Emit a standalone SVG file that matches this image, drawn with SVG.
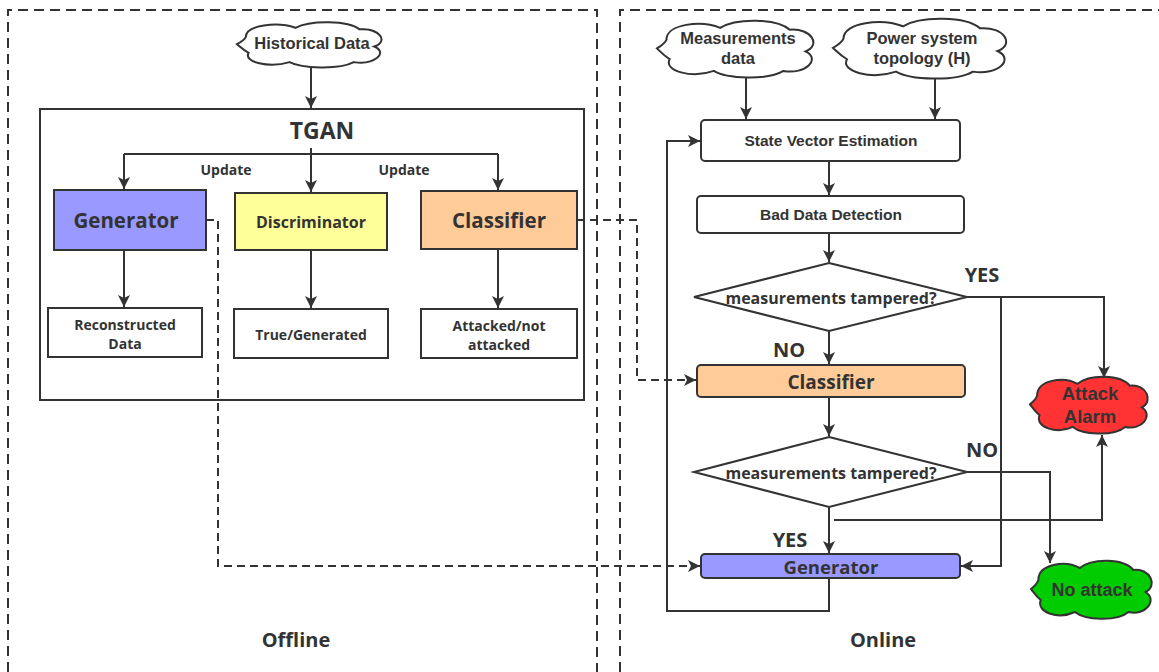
<svg xmlns="http://www.w3.org/2000/svg" width="1159" height="672" viewBox="0 0 1159 672">
  <style>
    .frame { fill: none; stroke: #333; stroke-width: 2; stroke-dasharray: 10 6; }
    .box { stroke: #333; stroke-width: 2; }
    .edge { fill: none; stroke: #333; stroke-width: 2; }
    .dash { fill: none; stroke: #333; stroke-width: 2; stroke-dasharray: 8 5; }
    .cloud { stroke: #333; stroke-width: 2; }
    .ya { font-family: "Open Sans", "Noto Sans", sans-serif; font-weight: bold; fill: #333; text-anchor: middle; }
    .ar { font-family: "Liberation Sans", Arial, sans-serif; font-weight: bold; fill: #333; text-anchor: middle; }
  </style>
  <defs>
    <marker id="arrow" markerUnits="userSpaceOnUse" markerWidth="14" markerHeight="12" refX="12" refY="6" orient="auto">
      <path d="M0,0 L12,6 L0,12 L3,6 Z" fill="#333"/>
    </marker>
  </defs>

  <!-- section frames -->
  <path class="frame" d="M8,672 L8,10 L597,10 L597,672"/>
  <path class="frame" d="M620,672 L620,10 L1159,10"/>

  <!-- offline: source cloud and TGAN blocks -->
  <g id="historical-data">
    <path class="cloud" d="M6,22 C6,6 28,2 40,10 C50,0 76,0 84,12 C98,10 104,28 94,34 C104,42 94,58 80,54 C70,64 44,62 36,54 C22,62 4,54 8,42 C4,38 2,34 0,31 C3,28 5,26 6,22 Z" fill="#fff" vector-effect="non-scaling-stroke" transform="translate(237,20) scale(1.46,0.78)"/>
    <text class="ar" x="312" y="49" font-size="16.5">Historical Data</text>
  </g>

  <g id="tgan">
    <rect class="box" x="40" y="109" width="544" height="291" fill="#fff"/>
    <text class="ya" x="322" y="139" font-size="23">TGAN</text>
  </g>

  <g id="generator">
    <rect class="box" x="54" y="190" width="152" height="60" fill="#9999FF"/>
    <text class="ya" x="126" y="228" font-size="20.5">Generator</text>
  </g>
  <g id="discriminator">
    <rect class="box" x="235" y="193" width="152" height="57" fill="#FFFF99"/>
    <text class="ya" x="311" y="228" font-size="16">Discriminator</text>
  </g>
  <g id="classifier">
    <rect class="box" x="421" y="191" width="156" height="58" fill="#FFCC99"/>
    <text class="ya" x="499" y="228" font-size="20.5">Classifier</text>
  </g>
  <g id="reconstructed-data">
    <rect class="box" x="48" y="308" width="154" height="49" fill="#fff"/>
    <text class="ya" x="125" y="330" font-size="14">Reconstructed</text>
    <text class="ya" x="125" y="349" font-size="14">Data</text>
  </g>
  <g id="true-generated">
    <rect class="box" x="234" y="309" width="154" height="49" fill="#fff"/>
    <text class="ya" x="311" y="340" font-size="14">True/Generated</text>
  </g>
  <g id="attacked-not-attacked">
    <rect class="box" x="421" y="309" width="156" height="49" fill="#fff"/>
    <text class="ya" x="499" y="331" font-size="14">Attacked/not</text>
    <text class="ya" x="499" y="350" font-size="14">attacked</text>
  </g>

  <!-- online: input clouds -->
  <g id="measurements-data">
    <path class="cloud" d="M6,22 C6,6 28,2 40,10 C50,0 76,0 84,12 C98,10 104,28 94,34 C104,42 94,58 80,54 C70,64 44,62 36,54 C22,62 4,54 8,42 C4,38 2,34 0,31 C3,28 5,26 6,22 Z" fill="#fff" vector-effect="non-scaling-stroke" transform="translate(657,18) scale(1.58,0.98)"/>
    <text class="ar" x="738" y="44" font-size="16.5">Measurements</text>
    <text class="ar" x="738" y="64" font-size="16.5">data</text>
  </g>
  <g id="power-system-topology">
    <path class="cloud" d="M6,22 C6,6 28,2 40,10 C50,0 76,0 84,12 C98,10 104,28 94,34 C104,42 94,58 80,54 C70,64 44,62 36,54 C22,62 4,54 8,42 C4,38 2,34 0,31 C3,28 5,26 6,22 Z" fill="#fff" vector-effect="non-scaling-stroke" transform="translate(833,16) scale(1.75,1.03)"/>
    <text class="ar" x="922" y="44" font-size="16.5">Power system</text>
    <text class="ar" x="922" y="64" font-size="16.5">topology (H)</text>
  </g>

  <!-- online: detection pipeline -->
  <g id="state-vector-estimation">
    <rect class="box" x="701" y="120" width="259" height="41" rx="4" fill="#fff"/>
    <text class="ar" x="831" y="146" font-size="15.5">State Vector Estimation</text>
  </g>
  <g id="bad-data-detection">
    <rect class="box" x="697" y="196" width="267" height="37" rx="4" fill="#fff"/>
    <text class="ar" x="831" y="220" font-size="15.5">Bad Data Detection</text>
  </g>
  <g id="decision-1">
    <polygon class="box" points="829,263 967,297 829,331 694,297" fill="#fff"/>
    <text class="ya" x="831" y="304" font-size="16">measurements tampered?</text>
  </g>
  <g id="online-classifier">
    <rect class="box" x="697" y="365" width="268" height="32" rx="4" fill="#FFCC99"/>
    <text class="ya" x="831" y="389" font-size="19">Classifier</text>
  </g>
  <g id="decision-2">
    <polygon class="box" points="829,437 967,472 829,507 694,472" fill="#fff"/>
    <text class="ya" x="831" y="479" font-size="16">measurements tampered?</text>
  </g>
  <g id="online-generator">
    <rect class="box" x="701" y="554" width="259" height="24" rx="4" fill="#9999FF"/>
    <text class="ya" x="831" y="574" font-size="18.5">Generator</text>
  </g>

  <!-- outcomes -->
  <g id="attack-alarm">
    <path class="cloud" d="M6,22 C6,6 28,2 40,10 C50,0 76,0 84,12 C98,10 104,28 94,34 C104,42 94,58 80,54 C70,64 44,62 36,54 C22,62 4,54 8,42 C4,38 2,34 0,31 C3,28 5,26 6,22 Z" fill="#FF3333" vector-effect="non-scaling-stroke" transform="translate(1030,374) scale(1.19,0.98)"/>
    <text class="ar" x="1090" y="400" font-size="18.5">Attack</text>
    <text class="ar" x="1090" y="423" font-size="18.5">Alarm</text>
  </g>
  <g id="no-attack">
    <path class="cloud" d="M6,22 C6,6 28,2 40,10 C50,0 76,0 84,12 C98,10 104,28 94,34 C104,42 94,58 80,54 C70,64 44,62 36,54 C22,62 4,54 8,42 C4,38 2,34 0,31 C3,28 5,26 6,22 Z" fill="#00CC00" vector-effect="non-scaling-stroke" transform="translate(1031,558) scale(1.22,1.0)"/>
    <text class="ar" x="1092" y="596" font-size="18">No attack</text>
  </g>

  <!-- connectors -->
  <g id="connectors">
    <path class="edge" d="M311,67 L311,108" marker-end="url(#arrow)"/>
    <path class="edge" d="M311,148 L311,192" marker-end="url(#arrow)"/>
    <path class="edge" d="M124,154 L498,154"/>
    <path class="edge" d="M124,154 L124,189" marker-end="url(#arrow)"/>
    <path class="edge" d="M498,154 L498,190" marker-end="url(#arrow)"/>
    <path class="edge" d="M124,250 L124,307" marker-end="url(#arrow)"/>
    <path class="edge" d="M311,250 L311,308" marker-end="url(#arrow)"/>
    <path class="edge" d="M498,249 L498,308" marker-end="url(#arrow)"/>

    <path class="dash" d="M206,220 L218,220 L218,566 L700,566" marker-end="url(#arrow)"/>
    <path class="dash" d="M577,220 L637,220 L637,380 L696,380" marker-end="url(#arrow)"/>

    <path class="edge" d="M746,78 L746,119" marker-end="url(#arrow)"/>
    <path class="edge" d="M935,79 L935,119" marker-end="url(#arrow)"/>
    <path class="edge" d="M829,161 L829,195" marker-end="url(#arrow)"/>
    <path class="edge" d="M829,233 L829,262" marker-end="url(#arrow)"/>
    <path class="edge" d="M829,331 L829,364" marker-end="url(#arrow)"/>
    <path class="edge" d="M829,397 L829,436" marker-end="url(#arrow)"/>
    <path class="edge" d="M829,507 L829,553" marker-end="url(#arrow)"/>

    <path class="edge" d="M967,297 L1104,297 L1104,378" marker-end="url(#arrow)"/>
    <path class="edge" d="M1001,297 L1001,566 L961,566" marker-end="url(#arrow)"/>
    <path class="edge" d="M967,472 L1050,472 L1050,563" marker-end="url(#arrow)"/>
    <path class="edge" d="M834,520 L1102,520 L1102,435" marker-end="url(#arrow)"/>
    <path class="edge" d="M829,578 L829,611 L667,611 L667,141 L700,141" marker-end="url(#arrow)"/>
  </g>

  <!-- labels -->
  <text class="ya" x="226" y="175" font-size="14">Update</text>
  <text class="ya" x="404" y="175" font-size="14">Update</text>
  <text class="ya" x="982" y="282" font-size="20">YES</text>
  <text class="ya" x="789" y="357" font-size="20">NO</text>
  <text class="ya" x="982" y="457" font-size="20">NO</text>
  <text class="ya" x="790" y="547" font-size="20">YES</text>
  <text class="ya" x="296" y="647" font-size="20">Offline</text>
  <text class="ya" x="883" y="647" font-size="20">Online</text>
</svg>
